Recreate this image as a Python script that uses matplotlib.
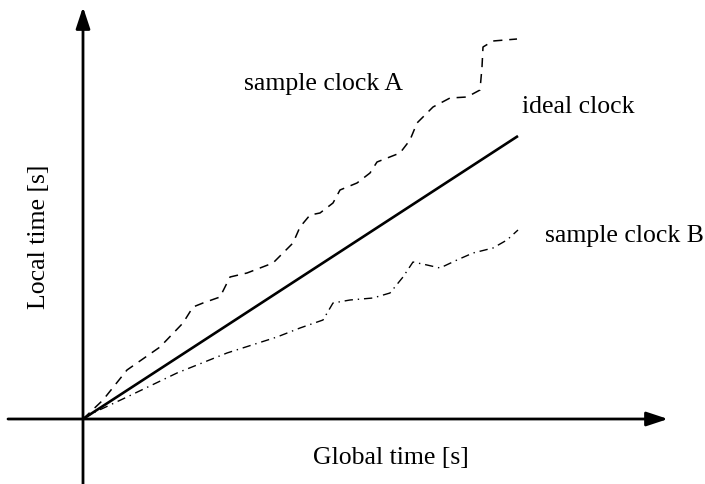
import numpy as np
import matplotlib
matplotlib.use("Agg")
import matplotlib.pyplot as plt

# Global time vs local time (arbitrary units)
ideal_x = [0, 435]
ideal_y = [0, 283]

clock_a_x = [0, 20, 44, 77, 100, 110, 120, 137, 147, 164, 190, 210, 217, 227,
             237, 250, 257, 274, 287, 294, 317, 327, 334, 350, 367, 384, 397,
             399, 400, 410, 434]
clock_a_y = [0, 19, 49, 72, 96, 112, 116, 122, 142, 146, 156, 176, 192, 204,
             206, 216, 229, 236, 246, 257, 266, 279, 296, 312, 321, 322, 329,
             352, 372, 378, 380]

clock_b_x = [0, 10, 44, 94, 144, 194, 217, 240, 250, 267, 290, 307, 320, 330,
             344, 357, 374, 390, 410, 424, 435]
clock_b_y = [0, 6, 22, 46, 66, 82, 91, 99, 116, 119, 121, 126, 142, 157,
             154, 151, 159, 166, 171, 179, 189]

fig = plt.figure(figsize=(7.05, 4.84), dpi=100)
ax = fig.add_axes([0, 0, 1, 1])
ax.set_xlim(-83, 622)
ax.set_ylim(-65, 419)
ax.axis("off")

serif = ["Liberation Serif", "DejaVu Serif"]
fs = 18.5

# axes with arrow heads
arrow = dict(arrowstyle="-|>,head_length=1.3,head_width=0.43",
             lw=2.0, color="black", shrinkA=0, shrinkB=0, mutation_scale=10)
ax.annotate("", xy=(585, 0), xytext=(-75, 0), arrowprops=arrow)
ax.annotate("", xy=(0, 412), xytext=(0, -65), arrowprops=arrow)

ax.plot(ideal_x, ideal_y, color="black", lw=1.9, solid_capstyle="butt")
ax.plot(clock_a_x, clock_a_y, color="black", lw=1.1, linestyle=(0, (6, 4.5)))
ax.plot(clock_b_x, clock_b_y, color="black", lw=1.0,
        linestyle=(0, (6, 3.5, 1, 3.5)))

ax.text(241, 335, "sample clock A", fontsize=fs, family=serif,
        ha="center", va="center")
ax.text(439, 312, "ideal clock", fontsize=fs, family=serif,
        ha="left", va="center")
ax.text(462, 183, "sample clock B", fontsize=fs, family=serif,
        ha="left", va="center")
ax.text(308, -39, "Global time [s]", fontsize=fs, family=serif,
        ha="center", va="center")
ax.text(-44, 182, "Local time [s]", fontsize=fs, family=serif,
        ha="center", va="center", rotation=90)

fig.savefig("out.png", dpi=100)
